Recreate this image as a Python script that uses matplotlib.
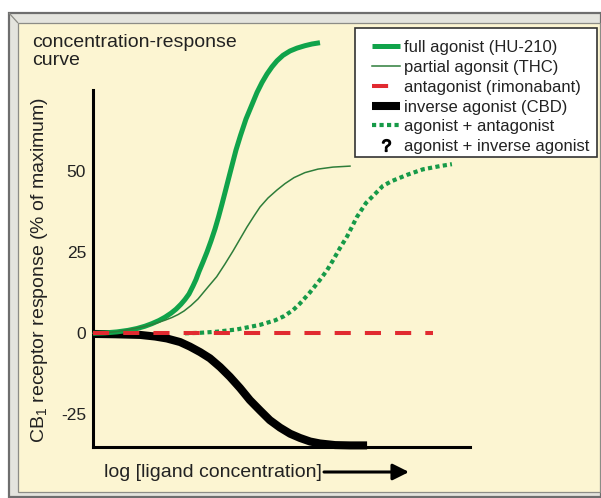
import matplotlib
matplotlib.use("Agg")
import matplotlib.pyplot as plt
from matplotlib.lines import Line2D
from matplotlib.patches import Rectangle, Polygon, FancyArrowPatch

plt.rcParams['font.family'] = ['Liberation Sans', 'DejaVu Sans']
plt.rcParams['mathtext.fontset'] = 'custom'
plt.rcParams['mathtext.rm'] = 'Liberation Sans'
plt.rcParams['mathtext.it'] = 'Liberation Sans:italic'

# ---------------- data (log concentration units, % response) ----------------
full_x = [0.000, 0.318, 0.637, 0.928, 1.167, 1.379, 1.565, 1.751, 1.910, 2.069, 2.202,
          2.334, 2.440, 2.546, 2.653, 2.732, 2.812, 2.918, 3.024, 3.130, 3.236, 3.329,
          3.422, 3.515, 3.607, 3.700, 3.793, 3.912, 4.058, 4.218, 4.350, 4.483, 4.615,
          4.748, 4.881, 5.040, 5.225, 5.411, 5.623, 5.809, 6.021]
full_y = [0.00, 0.12, 0.43, 0.90, 1.48, 2.19, 2.99, 3.95, 4.97, 6.20, 7.44,
          8.98, 10.43, 12.13, 14.60, 16.60, 19.07, 22.01, 25.09, 28.49, 32.19, 35.90,
          39.91, 44.07, 48.24, 52.41, 56.57, 61.05, 66.14, 70.62, 74.32, 77.41, 80.03,
          82.25, 84.10, 85.80, 87.13, 88.02, 88.77, 89.29, 89.69]

partial_x = [0.000, 0.318, 0.584, 0.849, 1.114, 1.379, 1.645, 1.910, 2.095, 2.255, 2.414,
             2.599, 2.785, 3.050, 3.281, 3.501, 3.714, 3.899, 4.085, 4.271, 4.430, 4.642,
             4.881, 5.093, 5.332, 5.623, 5.968, 6.366, 6.817]
partial_y = [0.00, 0.19, 0.46, 0.93, 1.48, 2.16, 3.02, 4.04, 4.88, 5.77, 6.88,
             8.58, 10.59, 14.29, 17.47, 21.39, 25.40, 29.10, 32.81, 36.20, 38.98, 41.76,
             44.23, 46.20, 48.05, 49.60, 50.68, 51.30, 51.60]

antag_x = [0, 9.02]
antag_y = [0, 0]

inverse_x = [0, 0.58, 1.25, 1.65, 1.96, 2.31, 2.57, 2.84, 3.10, 3.37, 3.63, 3.90, 4.16,
             4.43, 4.69, 4.96, 5.23, 5.49, 5.76, 6.02, 6.42, 6.82, 7.27]
inverse_y = [-0.2, -0.3, -0.5, -1.0, -1.6, -2.7, -4.1, -5.8, -7.7, -10.4, -13.4, -16.9, -20.6,
             -23.8, -26.8, -29.1, -31.0, -32.3, -33.4, -34.0, -34.5, -34.6, -34.6]

combo_x = [2.44, 2.84, 3.29, 3.82, 4.43, 4.83, 5.07, 5.31, 5.49, 5.76, 6.02, 6.21, 6.37,
           6.55, 6.74, 7.00, 7.24, 7.48, 7.69, 7.93, 8.33, 8.75, 9.20, 9.52]
combo_y = [0, 0.15, 0.5, 1.2, 2.6, 4.0, 5.3, 7.2, 9.2, 12.7, 16.5, 19.5, 22.6,
           26.3, 29.9, 35.9, 40.2, 43.0, 45.5, 47.0, 48.9, 50.6, 51.6, 52.2]

ytick_vals = [-25, 0, 25, 50]
ytick_labels = ['-25', '0', '25', '50']

labels = ['full agonist (HU-210)', 'partial agonsit (THC)', 'antagonist (rimonabant)',
          'inverse agonist (CBD)', 'agonist + antagonist', 'agonist + inverse agonist']

title_text = 'concentration-response\ncurve'
ylabel_text = 'CB$_1$ receptor response (% of maximum)'
xlabel_text = 'log [ligand concentration]'

# ---------------- styling ----------------
W, H = 601, 498
cream = '#FCF5D2'
green = '#10A34A'
thin_green = '#2E7D3A'
dot_green = '#169A48'
red = '#E12A30'
txt = '#222222'

fig = plt.figure(figsize=(W / 100, H / 100), dpi=100, facecolor='white')

def fx(px):
    return px / W

def fy(py):
    return 1 - py / H

# frame with bevel
fig.patches.append(Rectangle((fx(9), fy(497)), fx(601) - fx(9), fy(13) - fy(497),
                             transform=fig.transFigure, facecolor='#E4E4DE',
                             edgecolor='#6E6E6E', lw=1.6, zorder=-2))
fig.patches.append(Rectangle((fx(18), fy(492)), fx(600) - fx(18), fy(23) - fy(492),
                             transform=fig.transFigure, facecolor=cream,
                             edgecolor='#8C8C86', lw=0.9, zorder=-1))
fig.patches.append(Polygon([(fx(9), fy(13)), (fx(18), fy(23))], closed=False,
                           transform=fig.transFigure, edgecolor='#8C8C86', lw=0.9,
                           fill=False, zorder=-1))

# axes placement: x 0..10 spans px 93..470 ; y 0 at px 333.3, 3.24 px per unit
ax_left, ax_right, ax_top, ax_bot = 93, 470, 30, 447
ax = fig.add_axes([fx(ax_left), fy(ax_bot), (ax_right - ax_left) / W, (ax_bot - ax_top) / H])
ax.set_zorder(2)
ax.set_facecolor('none')
ax.set_xlim(0, 10)
y0, ppu = 333.3, 3.24
ax.set_ylim((y0 - ax_bot) / ppu, (y0 - ax_top) / ppu)

for s in ['top', 'right']:
    ax.spines[s].set_visible(False)
for s in ['left', 'bottom']:
    ax.spines[s].set_linewidth(2.2)
    ax.spines[s].set_color('black')
ax.spines['left'].set_bounds((y0 - ax_bot) / ppu, (y0 - 90) / ppu)
ax.set_xticks([])
ax.set_yticks(ytick_vals)
ax.set_yticklabels(ytick_labels, fontsize=12.5, color=txt)
ax.tick_params(axis='y', length=0, pad=5)

l_full, = ax.plot(full_x, full_y, color=green, lw=3.6, solid_capstyle='butt',
                  solid_joinstyle='round', clip_on=False, zorder=3)
l_part, = ax.plot(partial_x, partial_y, color=thin_green, lw=1.1, clip_on=False, zorder=3)
l_inv, = ax.plot(inverse_x, inverse_y, color='black', lw=5.8, solid_capstyle='butt',
                 solid_joinstyle='round', clip_on=False, zorder=2)
l_combo, = ax.plot(combo_x, combo_y, color=dot_green, lw=3.0, ls=(0, (1, 0.8)),
                   dash_capstyle='butt', clip_on=False, zorder=3)
l_ant, = ax.plot(antag_x, antag_y, color=red, lw=2.9, ls=(0, (4, 3.5)),
                 dash_capstyle='butt', clip_on=False, zorder=4)

q_handle = Line2D([], [], ls='none', marker='$?$', color='black', markersize=8.5)

# legend box
ax.add_patch(Rectangle((fx(355), fy(157)), fx(597) - fx(355), fy(28) - fy(157),
                       transform=fig.transFigure, facecolor='white', edgecolor='#333333',
                       lw=1.2, clip_on=False, zorder=5))
leg = ax.legend([l_full, l_part, l_ant, l_inv, l_combo, q_handle], labels,
                loc='upper left', bbox_to_anchor=(fx(372), fy(40)),
                bbox_transform=fig.transFigure, borderaxespad=0, borderpad=0,
                fontsize=12, frameon=False, labelspacing=0.29,
                handlelength=1.7, handletextpad=0.25)
leg.set_zorder(6)
for t in leg.get_texts():
    t.set_color(txt)

ax.set_ylabel(ylabel_text, fontsize=14, color=txt, va='center', ha='center')
ax.yaxis.set_label_coords((40 - ax_left) / (ax_right - ax_left),
                          (ax_bot - 270) / (ax_bot - ax_top))

fig.text(fx(32), fy(34), title_text, fontsize=14, color=txt, ha='left', va='top',
         linespacing=1.1)

fig.text(fx(104), fy(472), xlabel_text, fontsize=14, color=txt, ha='left', va='center')
fig.add_artist(FancyArrowPatch(
    (fx(324), fy(472)), (fx(409), fy(472)), transform=fig.transFigure,
    arrowstyle='-|>,head_length=0.7,head_width=0.35', lw=2.2, color='black',
    shrinkA=0, shrinkB=0, mutation_scale=14, zorder=3))

fig.savefig('out.png', dpi=100, facecolor='white')
